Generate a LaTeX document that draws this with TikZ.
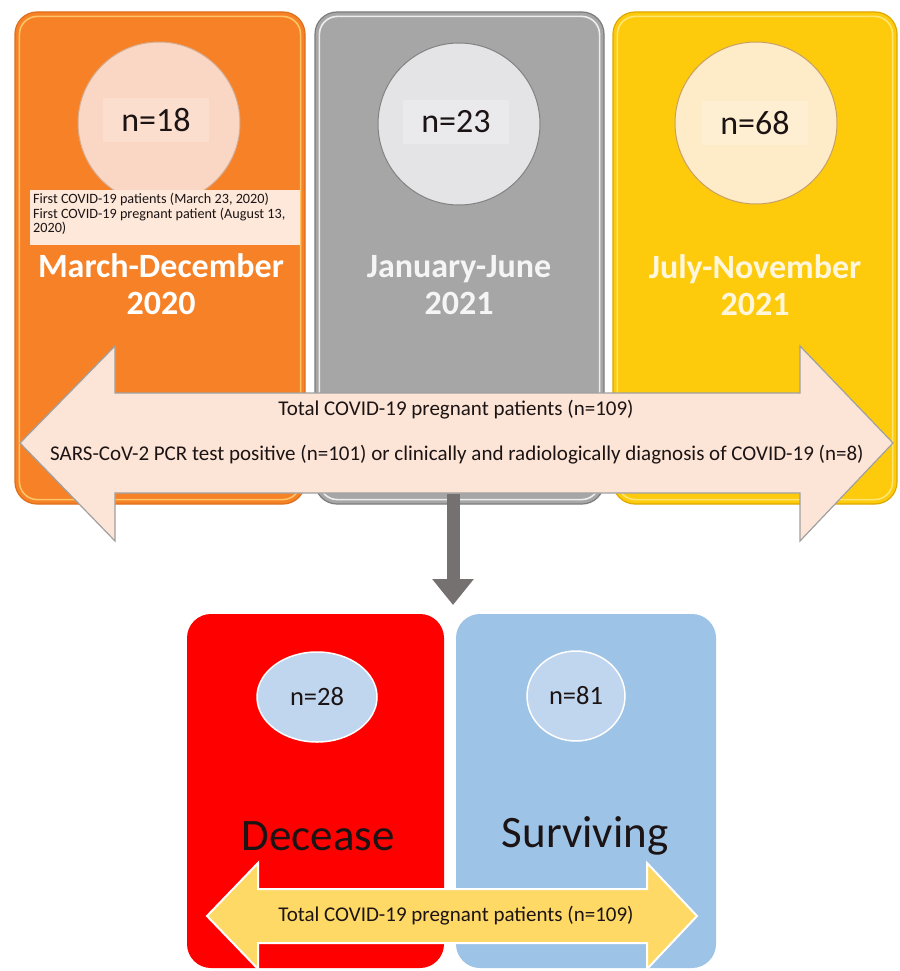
\documentclass[tikz,border=0pt]{standalone}
\usepackage{fontspec}
\setmainfont{Carlito}
\usetikzlibrary{shapes.geometric,arrows.meta}
\definecolor{orA}{RGB}{246,129,38}
\definecolor{orD}{RGB}{222,112,30}
\definecolor{orH}{RGB}{255,214,120}
\definecolor{orC}{RGB}{250,214,196}
\definecolor{orCd}{RGB}{214,170,140}
\definecolor{orT}{RGB}{251,222,206}
\definecolor{bandC}{RGB}{253,232,218}
\definecolor{grA}{RGB}{166,166,166}
\definecolor{grD}{RGB}{125,125,125}
\definecolor{grH}{RGB}{245,245,245}
\definecolor{grC}{RGB}{228,228,230}
\definecolor{grCd}{RGB}{130,130,130}
\definecolor{grT}{RGB}{234,234,236}
\definecolor{yeA}{RGB}{253,203,12}
\definecolor{yeD}{RGB}{222,168,0}
\definecolor{yeH}{RGB}{255,236,140}
\definecolor{yeC}{RGB}{254,235,200}
\definecolor{yeCd}{RGB}{200,160,100}
\definecolor{yeT}{RGB}{255,239,210}
\definecolor{pinkA}{RGB}{252,228,214}
\definecolor{pinkD}{RGB}{160,160,160}
\definecolor{darr}{RGB}{118,113,113}
\definecolor{redA}{RGB}{255,0,0}
\definecolor{blueA}{RGB}{157,195,230}
\definecolor{elC}{RGB}{192,213,238}
\definecolor{yarr}{RGB}{255,217,102}
\definecolor{txt}{RGB}{28,20,20}
\definecolor{ylab}{RGB}{255,246,220}
\begin{document}
\begin{tikzpicture}[x=1pt,y=-1pt,
  topbox/.style={rectangle, rounded corners=22pt, line width=1.2pt, minimum width=290pt, minimum height=492pt, inner sep=0pt},
  botbox/.style={rectangle, rounded corners=24pt, minimum height=354pt, inner sep=0pt},
  numcirc/.style={circle, minimum size=162pt, line width=1pt, inner sep=0pt},
  numlab/.style={minimum width=106pt, minimum height=44pt, inner sep=0pt, text=txt, font=\fontsize{34}{37}\selectfont},
  period/.style={align=center, inner sep=0pt, font=\bfseries\fontsize{34}{37}\selectfont},
  arrtext/.style={inner sep=0pt, text=txt, font=\fontsize{21}{24}\selectfont},
  numell/.style={ellipse, draw=white, line width=1.5pt, fill=elC, minimum height=90pt, inner sep=0pt, text=txt, font=\fontsize{26.5}{29}\selectfont},
  bigword/.style={inner sep=0pt, text=txt, font=\fontsize{45}{50}\selectfont}
]
\useasboundingbox (0,0) rectangle (899,971);
\fill[white] (0,0) rectangle (899,971);

% top period boxes
\node[topbox, fill=orA, draw=orD] (b1) at (160,258) {};
\node[topbox, fill=grA, draw=grD, minimum width=289pt] (b2) at (459.5,258) {};
\node[topbox, fill=yeA, draw=yeD, minimum width=284pt] (b3) at (755,258) {};
\draw[orH, line width=1.6pt, rounded corners=18pt, opacity=0.8] ([shift={(5,5)}]b1.north west) rectangle ([shift={(-5,-5)}]b1.south east);
\draw[grH, line width=1.6pt, rounded corners=18pt, opacity=0.9] ([shift={(5,5)}]b2.north west) rectangle ([shift={(-5,-5)}]b2.south east);
\draw[yeH, line width=1.6pt, rounded corners=18pt, opacity=0.8] ([shift={(5,5)}]b3.north west) rectangle ([shift={(-5,-5)}]b3.south east);

% circles with counts
\node[numcirc, fill=orC, draw=orCd] (c1) at (159,123) {};
\node[numcirc, fill=grC, draw=grCd] (c2) at (459,124) {};
\node[numcirc, fill=yeC, draw=yeCd] (c3) at (756,123) {};
\node[numlab, fill=orT] (n1) at (156,120) {n=18};
\node[numlab, fill=grT] (n2) at (456,122) {n=23};
\node[numlab, fill=yeT] (n3) at (755,123) {n=68};

% first-patient band
\node[fill=bandC, minimum width=270pt, minimum height=55pt, inner sep=0pt, anchor=north west] (band) at (30,190) {};
\node[anchor=north west, align=left, inner sep=0pt, text=txt, font=\fontsize{14.2}{14.6}\selectfont] (bt) at (33,193)
  {First COVID-19 patients (March 23, 2020)\\First COVID-19 pregnant patient (August 13,\\2020)};

% period labels
\node[period, text=white] (p1) at (161,284) {March-December\\2020};
\node[period, text=grH] (p2) at (459,285) {January-June\\2021};
\node[period, text=ylab] (p3) at (755,285) {July-November\\2021};

% big double arrow
\draw[fill=pinkA, draw=pinkD, line width=1.2pt, line join=miter]
  (20,443) -- (115,346) -- (115,393) -- (800,393) -- (800,346) -- (893,443)
  -- (800,541) -- (800,493) -- (115,493) -- (115,541) -- cycle;
\node[arrtext] (a1) at (456,410) {Total COVID-19 pregnant patients (n=109)};
\node[arrtext] (a2) at (457,455) {SARS-CoV-2 PCR test positive (n=101) or clinically and radiologically diagnosis of COVID-19 (n=8)};

% down connector
\coordinate (dtop) at (453,494);
\coordinate (dtip) at (453,605);
\draw[darr, line width=13pt, -{Triangle[width=40pt,length=26pt]}] (dtop) -- (dtip);

% outcome boxes
\node[botbox, fill=redA, minimum width=257pt] (d1) at (315.5,791) {};
\node[botbox, fill=blueA, minimum width=260pt] (d2) at (586,791) {};
\node[numell, minimum width=120pt] (e1) at (317,697) {n=28};
\node[numell, minimum width=98pt] (e2) at (576,696) {n=81};
\node[bigword] (w1) at (318,836) {Decease};
\node[bigword] (w2) at (585,836) {Surviving};

% bottom double arrow
\draw[fill=yarr, draw=white, line width=2pt, line join=miter]
  (207,916) -- (258,863) -- (258,889) -- (647,889) -- (647,863) -- (697,916)
  -- (647,969) -- (647,943) -- (258,943) -- (258,969) -- cycle;
\node[arrtext] (a3) at (456,916) {Total COVID-19 pregnant patients (n=109)};
\end{tikzpicture}
\end{document}
